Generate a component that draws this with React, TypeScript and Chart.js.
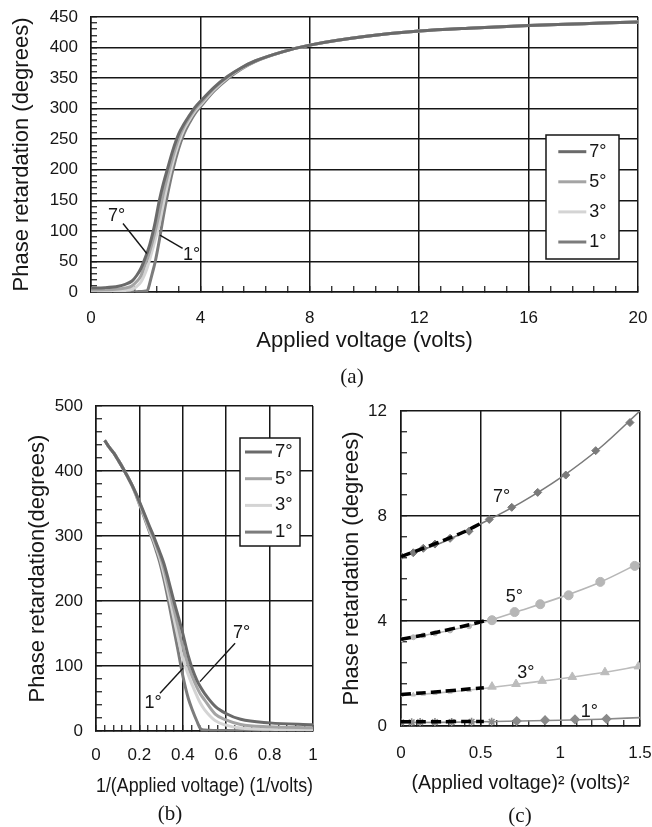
import React, { useEffect, useRef } from 'react';
import { Chart, registerables } from 'chart.js';

Chart.register(...registerables);

const FONT = "'Liberation Sans', Arial, Helvetica, sans-serif";
const SERIF = "'Liberation Serif', 'Times New Roman', Times, serif";
const INK = '#161616';

// ---------- shared series ----------
const SERIES_LABELS = ['7°', '5°', '3°', '1°'];
const SERIES_COLORS = ['#6a6a6a', '#a4a4a4', '#d4d4d4', '#7c7c7c'];
const CAPTIONS = ['(a)', '(b)', '(c)'];

// ---------- (a)/(b): phase retardation vs applied voltage ----------
const VOLTS = [0, 0.5, 1.0, 1.25, 1.5, 1.67, 1.82, 2.0, 2.08, 2.15, 2.25, 2.35, 2.5, 2.65, 2.8, 3.0, 3.2, 3.4, 3.6, 3.8, 4.0, 4.5, 5.0, 5.5, 6.0, 7.0, 8.0, 10, 12, 14, 16, 18, 20, 25];
const RET_7 = [6.4, 7.1, 9.5, 12.5, 18, 27, 38, 58, 68, 78, 95, 115, 150, 178, 202, 233, 258, 275, 289, 302, 312, 335, 353, 367, 378, 393, 404, 418, 427, 432, 436, 439, 442, 447];
const RET_5 = [3.3, 3.65, 4.95, 6.5, 10, 17, 26, 48, 57, 67, 83, 100, 130, 162, 190, 223, 251, 271, 286, 299, 309, 333, 352, 367, 378, 393, 404, 418, 427, 432, 436, 439, 442, 447];
const RET_3 = [1.15, 1.3, 1.8, 2.5, 4.5, 9, 16, 33, 43, 54, 70, 86, 112, 145, 176, 213, 243, 266, 282, 296, 306, 331, 351, 366, 378, 393, 404, 418, 427, 432, 436, 439, 442, 447];
const RET_1 = [0.12, 0.13, 0.2, 0.28, 0.4, 0.6, 0.9, 1.5, 4, 15, 32, 50, 85, 125, 160, 201, 234, 259, 277, 292, 303, 329, 349, 365, 377, 393, 404, 418, 427, 432, 436, 439, 442, 447];
const RETS = [RET_7, RET_5, RET_3, RET_1];

const A_X_LABELS = [0, 4, 8, 12, 16, 20];
const A_Y_LABELS = [0, 50, 100, 150, 200, 250, 300, 350, 400, 450];
const B_X_LABELS = [0, 0.2, 0.4, 0.6, 0.8, 1];
const B_Y_LABELS = [0, 100, 200, 300, 400, 500];

// annotation labels [text, x, y] and pointer lines [x1, y1, x2, y2] in data units
const A_NOTES: [string, number, number][] = [['7°', 0.94, 124], ['1°', 3.68, 60]];
const A_POINTERS = [[1.17, 112, 2.04, 63], [2.52, 93, 3.35, 71.5]];
const B_NOTES: [string, number, number][] = [['7°', 0.671, 150], ['1°', 0.263, 42.6]];
const B_POINTERS = [[0.641, 135, 0.479, 76], [0.295, 58, 0.401, 96.5]];

// ---------- (c): retardation vs (applied voltage)^2 ----------
const C_MARK_X_7 = [0, 0.077, 0.14, 0.213, 0.308, 0.427, 0.554, 0.695, 0.858, 1.034, 1.222, 1.437];
const C_MARK_Y_7 = [6.47, 6.6, 6.77, 6.93, 7.15, 7.42, 7.87, 8.33, 8.9, 9.56, 10.49, 11.56];
const C_MARK_X_5 = [0, 0.077, 0.14, 0.213, 0.308, 0.427, 0.571, 0.713, 0.874, 1.052, 1.251, 1.467];
const C_MARK_Y_5 = [3.3, 3.38, 3.45, 3.53, 3.64, 3.8, 4.03, 4.34, 4.64, 4.98, 5.49, 6.1];
const C_MARK_X_3 = [0, 0.077, 0.14, 0.213, 0.308, 0.427, 0.571, 0.722, 0.886, 1.075, 1.28, 1.49];
const C_MARK_Y_3 = [1.17, 1.19, 1.22, 1.25, 1.3, 1.36, 1.5, 1.6, 1.72, 1.87, 2.05, 2.27];
const C_MARK_X_1 = [0, 0.067, 0.12, 0.213, 0.318, 0.443, 0.569, 0.726, 0.904, 1.092, 1.29];
const C_MARK_Y_1 = [0.14, 0.14, 0.15, 0.15, 0.15, 0.16, 0.16, 0.19, 0.22, 0.25, 0.27];

const C_TREND_X = [0, 0.25, 0.5, 0.75, 1.0, 1.25, 1.5];
const C_TREND_7 = [6.45, 6.97, 7.7, 8.5, 9.45, 10.6, 12.0];
const C_TREND_5 = [3.3, 3.57, 3.92, 4.4, 4.9, 5.48, 6.22];
const C_TREND_3 = [1.15, 1.27, 1.42, 1.61, 1.8, 2.02, 2.28];
const C_TREND_1 = [0.13, 0.14, 0.16, 0.19, 0.22, 0.26, 0.32];

const C_FIT_X = [0, 0.13, 0.26, 0.39, 0.52];
const C_FIT_7 = [6.45, 6.75, 7.05, 7.38, 7.78];
const C_FIT_5 = [3.3, 3.45, 3.62, 3.8, 4.0];
const C_FIT_3 = [1.2, 1.26, 1.32, 1.39, 1.46];
const C_FIT_1 = [0.16, 0.16, 0.165, 0.17, 0.17];

const C_X_LABELS = [0, 0.5, 1, 1.5];
const C_Y_LABELS = [0, 4, 8, 12];
const C_NOTES: [string, number, number][] = [['7°', 0.632, 8.73], ['5°', 0.711, 4.91], ['3°', 0.783, 2.02], ['1°', 1.182, 0.53]];

const C_MARK_COLORS = ['#7a7a7a', '#b6b6b6', '#bcbcbc', '#8a8a8a'];

// ---------- helpers ----------
const pts = (xs: number[], ys: number[]) => xs.map((x, i) => ({ x, y: ys[i] }));

function makeAxis(o: any) {
  const tol = o.step / 100;
  const major = (v: number) => o.labels.find((l: number) => Math.abs(l - v) < tol);
  return {
    type: 'linear',
    position: o.pos,
    min: o.min,
    max: o.max,
    afterFit: (s: any) => {
      if (o.pos === 'left') s.width = o.size;
      else s.height = o.size;
      s.paddingTop = 0;
      s.paddingBottom = 0;
      s.paddingLeft = 0;
      s.paddingRight = 0;
    },
    ticks: {
      stepSize: o.step,
      maxTicksLimit: 1000,
      autoSkip: false,
      maxRotation: 0,
      minRotation: 0,
      padding: o.labelPad,
      color: INK,
      font: { family: FONT, size: 17 },
      callback: (v: number) => {
        const m = major(v);
        return m === undefined ? '' : String(m);
      },
    },
    grid: {
      color: (c: any) => (c.tick && major(c.tick.value) !== undefined ? INK : 'rgba(0,0,0,0)'),
      lineWidth: 1.5,
      drawTicks: true,
      tickLength: -6,
      tickColor: INK,
      tickWidth: 1.2,
    },
    border: { display: true, color: INK, width: 1.5 },
    title: {
      display: true,
      text: o.title,
      color: INK,
      font: { family: FONT, size: o.titleSize },
      padding: o.titlePad,
    },
  };
}

function overlayPlugin(cfg: any) {
  return {
    id: 'overlay',
    afterDatasetsDraw(chart: any) {
      const { ctx } = chart;
      const xs = chart.scales.x;
      const ys = chart.scales.y;
      ctx.save();
      ctx.strokeStyle = INK;
      ctx.lineWidth = 1.4;
      (cfg.pointers || []).forEach((p: number[]) => {
        ctx.beginPath();
        ctx.moveTo(xs.getPixelForValue(p[0]), ys.getPixelForValue(p[1]));
        ctx.lineTo(xs.getPixelForValue(p[2]), ys.getPixelForValue(p[3]));
        ctx.stroke();
      });
      ctx.fillStyle = INK;
      ctx.font = `${cfg.noteSize}px ${FONT}`;
      ctx.textAlign = 'center';
      ctx.textBaseline = 'middle';
      (cfg.notes || []).forEach((n: [string, number, number]) => {
        ctx.fillText(n[0], xs.getPixelForValue(n[1]), ys.getPixelForValue(n[2]));
      });
      ctx.restore();
    },
    afterDraw(chart: any) {
      const { ctx, chartArea: a } = chart;
      ctx.save();
      const lg = cfg.legend;
      if (lg) {
        const L = a.left + lg.left;
        const T = a.top + lg.top;
        ctx.fillStyle = '#ffffff';
        ctx.fillRect(L, T, lg.width, lg.height);
        ctx.strokeStyle = INK;
        ctx.lineWidth = 1.5;
        ctx.strokeRect(L, T, lg.width, lg.height);
        ctx.font = `${lg.fontSize}px ${FONT}`;
        ctx.textAlign = 'left';
        ctx.textBaseline = 'middle';
        chart.data.datasets.forEach((ds: any, i: number) => {
          const yy = T + lg.firstRow + i * lg.rowH;
          ctx.strokeStyle = ds.borderColor;
          ctx.lineWidth = ds.borderWidth;
          ctx.beginPath();
          ctx.moveTo(L + lg.line0, yy);
          ctx.lineTo(L + lg.line1, yy);
          ctx.stroke();
          ctx.fillStyle = INK;
          ctx.fillText(ds.label, L + lg.textX, yy);
        });
      }
      if (cfg.caption) {
        ctx.fillStyle = INK;
        ctx.font = `21px ${SERIF}`;
        ctx.textAlign = 'center';
        ctx.textBaseline = 'middle';
        ctx.fillText(cfg.caption.text, cfg.caption.x, cfg.caption.y);
      }
      ctx.restore();
    },
  };
}

const baseOptions = (padding: any, scales: any) => ({
  responsive: false,
  maintainAspectRatio: false,
  animation: false,
  devicePixelRatio: 1,
  events: [],
  layout: { padding, autoPadding: false },
  plugins: { legend: { display: false }, tooltip: { enabled: false }, title: { display: false } },
  elements: { point: { radius: 0 } },
  scales,
});

function lineSets(xFn: (v: number) => number, keep: (v: number) => boolean, sortAsc: boolean) {
  return SERIES_LABELS.map((label, k) => {
    let data = VOLTS.map((v, i) => ({ v, x: xFn(v), y: RETS[k][i] }))
      .filter((p) => keep(p.v))
      .map((p) => ({ x: p.x, y: p.y }));
    if (sortAsc) data = data.slice().sort((p, q) => p.x - q.x);
    return {
      label,
      data,
      borderColor: SERIES_COLORS[k],
      backgroundColor: SERIES_COLORS[k],
      borderWidth: 3,
      pointRadius: 0,
      cubicInterpolationMode: 'monotone',
      fill: false,
    };
  });
}

function buildA(canvas: HTMLCanvasElement) {
  return new Chart(canvas, {
    type: 'line',
    data: { datasets: lineSets((v) => v, () => true, false) as any },
    options: baseOptions({ top: 17, right: 14, bottom: 0, left: 0 }, {
      x: makeAxis({ pos: 'bottom', min: 0, max: 20, step: 0.8, labels: A_X_LABELS, size: 103, labelPad: 22,
        title: 'Applied voltage (volts)', titleSize: 22, titlePad: { top: 0, bottom: 41 } }),
      y: makeAxis({ pos: 'left', min: 0, max: 450, step: 10, labels: A_Y_LABELS, size: 91, labelPad: 19,
        title: 'Phase retardation (degrees)', titleSize: 22, titlePad: { top: 9, bottom: 0 } }),
    }) as any,
    plugins: [overlayPlugin({
      notes: A_NOTES, pointers: A_POINTERS, noteSize: 18,
      legend: { left: 455, top: 118, width: 73, height: 124, firstRow: 16.7, rowH: 30.1, line0: 12.3, line1: 40.3, textX: 43.3, fontSize: 18 },
      caption: { text: CAPTIONS[0], x: 352, y: 377 },
    })],
  });
}

function buildB(canvas: HTMLCanvasElement) {
  return new Chart(canvas, {
    type: 'line',
    data: { datasets: lineSets((v) => 1 / v, (v) => v >= 1, true) as any },
    options: baseOptions({ top: 26, right: 27, bottom: 0, left: 0 }, {
      x: makeAxis({ pos: 'bottom', min: 0, max: 1, step: 0.04, labels: B_X_LABELS, size: 96, labelPad: 20,
        title: '1/(Applied voltage) (1/volts)', titleSize: 19.5, titlePad: { top: 0, bottom: 29 } }),
      y: makeAxis({ pos: 'left', min: 0, max: 500, step: 20, labels: B_Y_LABELS, size: 96, labelPad: 19,
        title: 'Phase retardation(degrees)', titleSize: 22, titlePad: { top: 25, bottom: 0 } }),
    }) as any,
    plugins: [overlayPlugin({
      notes: B_NOTES, pointers: B_POINTERS, noteSize: 18,
      legend: { left: 144, top: 32, width: 60, height: 108, firstRow: 14, rowH: 26.7, line0: 5, line1: 32, textX: 35, fontSize: 18.5 },
      caption: { text: CAPTIONS[1], x: 170, y: 434 },
    })],
  });
}

function buildC(canvas: HTMLCanvasElement) {
  const markX = [C_MARK_X_7, C_MARK_X_5, C_MARK_X_3, C_MARK_X_1];
  const markY = [C_MARK_Y_7, C_MARK_Y_5, C_MARK_Y_3, C_MARK_Y_1];
  const trends = [C_TREND_7, C_TREND_5, C_TREND_3, C_TREND_1];
  const fits = [C_FIT_7, C_FIT_5, C_FIT_3, C_FIT_1];
  const styles: any[] = [
    'rectRot',
    'circle',
    'triangle',
    (c: any) => (c.raw && c.raw.x < 0.6 ? 'star' : 'rectRot'),
  ];
  const radii = [4, 4.5, 5, 4];
  const datasets: any[] = [];
  SERIES_LABELS.forEach((label, k) => {
    datasets.push({
      label: label + ' fit',
      data: pts(C_FIT_X, fits[k]),
      borderColor: '#000000',
      borderWidth: 3.5,
      borderDash: [10, 5],
      pointRadius: 0,
      tension: 0.3,
      order: 0,
    });
  });
  SERIES_LABELS.forEach((label, k) => {
    datasets.push({
      label: label + ' data',
      data: pts(markX[k], markY[k]),
      showLine: false,
      pointStyle: styles[k],
      pointRadius: (c: any) => ((k === 1 || k === 2) && c.raw && c.raw.x < 0.5 ? 2.5 : radii[k]),
      pointBackgroundColor: C_MARK_COLORS[k],
      pointBorderColor: C_MARK_COLORS[k],
      pointBorderWidth: k === 3 ? 1.6 : 1,
      order: 1,
    });
  });
  SERIES_LABELS.forEach((label, k) => {
    datasets.push({
      label: label + ' trend',
      data: pts(C_TREND_X, trends[k]),
      borderColor: C_MARK_COLORS[k],
      borderWidth: 1.6,
      pointRadius: 0,
      cubicInterpolationMode: 'monotone',
      order: 2,
    });
  });
  return new Chart(canvas, {
    type: 'line',
    data: { datasets },
    options: baseOptions({ top: 31, right: 12, bottom: 0, left: 0 }, {
      x: makeAxis({ pos: 'bottom', min: 0, max: 1.5, step: 0.1, labels: C_X_LABELS, size: 101, labelPad: 23,
        title: '(Applied voltage)² (volts)²', titleSize: 19.5, titlePad: { top: 0, bottom: 32 } }),
      y: makeAxis({ pos: 'left', min: 0, max: 12, step: 0.8, labels: C_Y_LABELS, size: 62, labelPad: 20,
        title: 'Phase retardation (degrees)', titleSize: 22, titlePad: { top: 0, bottom: 0 } }),
    }) as any,
    plugins: [overlayPlugin({
      notes: C_NOTES, pointers: [], noteSize: 18,
      caption: { text: CAPTIONS[2], x: 181, y: 436 },
    })],
  });
}

export default function App() {
  const refA = useRef<HTMLCanvasElement>(null);
  const refB = useRef<HTMLCanvasElement>(null);
  const refC = useRef<HTMLCanvasElement>(null);

  useEffect(() => {
    Chart.defaults.font.family = FONT;
    const charts = [buildA(refA.current!), buildB(refB.current!), buildC(refC.current!)];
    return () => charts.forEach((c) => c.destroy());
  }, []);

  return (
    <div style={{ position: 'absolute', left: 0, top: 0, width: 652, height: 827, background: '#ffffff', overflow: 'hidden' }}>
      <canvas ref={refA} width={652} height={395} style={{ position: 'absolute', left: 0, top: 0 }} />
      <canvas ref={refB} width={340} height={447} style={{ position: 'absolute', left: 0, top: 380 }} />
      <canvas ref={refC} width={313} height={447} style={{ position: 'absolute', left: 339, top: 380 }} />
    </div>
  );
}
